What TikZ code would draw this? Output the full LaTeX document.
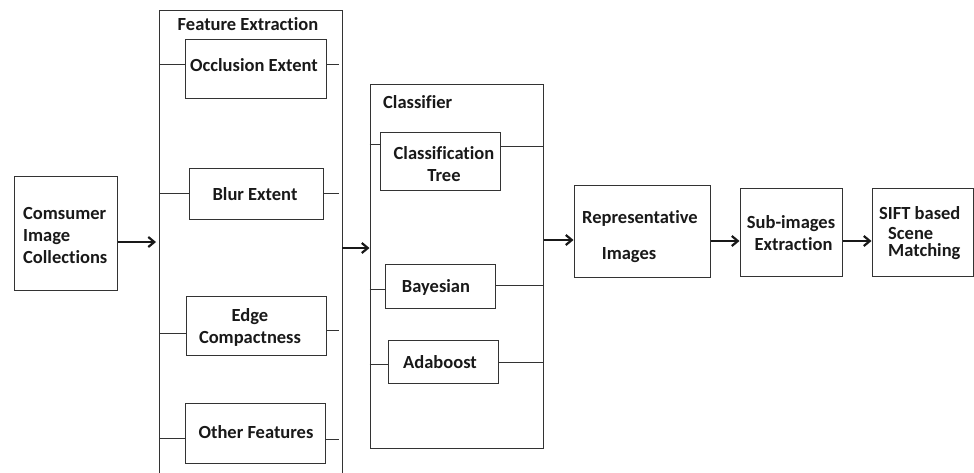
\documentclass[tikz,border=0pt]{standalone}
\usepackage{fontspec}
\setmainfont{Carlito}[Ligatures=NoCommon]
\usetikzlibrary{arrows.meta}
\begin{document}
\begin{tikzpicture}[x=1pt,y=-1pt,
  box/.style={draw=black!80,line width=1pt,inner sep=0pt},
  lbl/.style={inner sep=0pt,font=\fontsize{18.5}{22}\selectfont\bfseries,text=black!90},
  link/.style={draw=black!80,line width=0.9pt},
  flow/.style={draw=black!90,line width=2.2pt,-{Straight Barb[length=6pt,width=10pt,line width=2.2pt]}}]
\useasboundingbox[fill=white] (0,0) rectangle (974,472);
% consumer
\node[box,minimum width=103pt,minimum height=114pt] (cons) at (65.5,233) {};
\node[lbl,anchor=west,align=left] (tcons) at (23,235) {Comsumer\\Image\\Collections};
% feature extraction frame (open bottom)
\coordinate (fetl) at (159,10);
\coordinate (fetr) at (342,10);
\coordinate (febl) at (159,480);
\coordinate (febr) at (342,480);
\draw[link] (febl) -- (fetl) -- (fetr) -- (febr);
\node[lbl] (tfe) at (248,24) {Feature Extraction};
\node[box,minimum width=141pt,minimum height=59pt] (occ) at (255.5,68.5) {};
\node[lbl] (tocc) at (254,65) {Occlusion Extent};
\node[box,minimum width=134pt,minimum height=51pt] (blur) at (256,193.5) {};
\node[lbl] (tblur) at (255,194) {Blur Extent};
\node[box,minimum width=140pt,minimum height=59pt] (edge) at (256,325.5) {};
\node[lbl,align=center] (tedge) at (250,327) {Edge\\Compactness};
\node[box,minimum width=140pt,minimum height=60pt] (oth) at (255,433) {};
\node[lbl] (toth) at (256,432) {Other Features};
\foreach \b/\yl/\yr in {occ/64/64,blur/193/193,edge/333/330,oth/438/439}{
  \draw[link] (159,\yl) -- (\b.west |- 0,\yl);
  \draw[link] (\b.east |- 0,\yr) -- (339,\yr);
}
% classifier frame
\node[box,minimum width=173pt,minimum height=364pt] (cls) at (456.5,266) {};
\node[lbl,anchor=west] (tcls) at (383,102) {Classifier};
\node[box,minimum width=120pt,minimum height=58pt] (ctree) at (440,161) {};
\node[lbl,align=center] (tctree) at (444,164) {Classification\\Tree};
\node[box,minimum width=110pt,minimum height=44pt] (bay) at (440,286) {};
\node[lbl] (tbay) at (436,287) {Bayesian};
\node[box,minimum width=110pt,minimum height=43pt] (ada) at (443,361.5) {};
\node[lbl] (tada) at (440,362) {Adaboost};
\foreach \b/\yl/\yr in {ctree/144/146,bay/289/285,ada/364/362}{
  \draw[link] (cls.west |- 0,\yl) -- (\b.west |- 0,\yl);
  \draw[link] (\b.east |- 0,\yr) -- (cls.east |- 0,\yr);
}
% right chain
\node[box,minimum width=136pt,minimum height=92pt] (rep) at (642,231) {};
\node[lbl] (trep1) at (640,218) {Representative};
\node[lbl] (trep2) at (629,255) {Images};
\node[box,minimum width=102pt,minimum height=88pt] (sub) at (791,232) {};
\node[lbl,align=center] (tsub) at (791,233) {Sub-images\\\hspace*{5pt}Extraction};
\node[box,minimum width=101pt,minimum height=88pt] (sift) at (922.5,232) {};
\node[lbl,anchor=west] (tsift1) at (879,213) {SIFT based};
\node[lbl,anchor=west,font=\fontsize{18.5}{17}\selectfont\bfseries,align=left] (tsift2) at (888,243) {Scene\\Matching};
% arrows
\draw[flow] (cons.east |- 0,242) -- (156,242);
\draw[flow] (342,248) -- (cls.west |- 0,248);
\draw[flow] (cls.east |- 0,240) -- (rep.west |- 0,240);
\draw[flow] (rep.east |- 0,241) -- (sub.west |- 0,241);
\draw[flow] (sub.east |- 0,241) -- (sift.west |- 0,241);
\end{tikzpicture}
\end{document}
